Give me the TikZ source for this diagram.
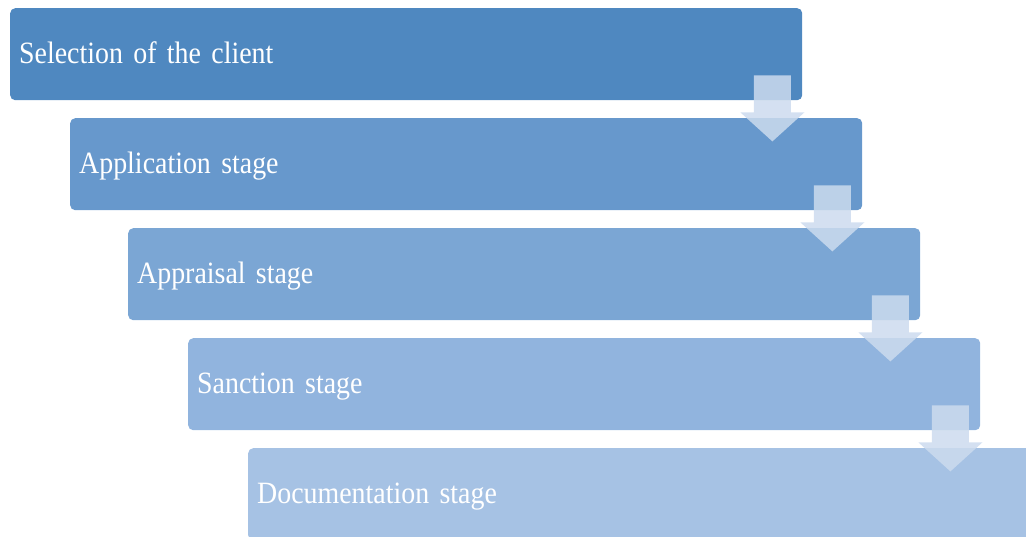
\documentclass[tikz,border=0pt]{standalone}
\usepackage{fontspec}
\setmainfont[FakeStretch=0.9]{Liberation Serif}
\definecolor{stageA}{HTML}{4F88C0}
\definecolor{stageB}{HTML}{6798CC}
\definecolor{stageC}{HTML}{7BA6D4}
\definecolor{stageD}{HTML}{91B4DE}
\definecolor{stageE}{HTML}{A6C2E4}
\definecolor{flowfill}{HTML}{CCDBEE}
\tikzset{
  stage/.style={rounded corners=5pt, anchor=north west,
    minimum width=792pt, minimum height=92pt,
    inner xsep=9pt, text width=774pt, align=left,
    text height=22pt, text depth=4pt,
    text=white, font=\fontsize{31}{34}\selectfont},
  flow/.style={fill=flowfill, fill opacity=0.85}
}
% down arrow hanging from the lower right corner of a stage
\newcommand{\stagearrow}[1]{%
  \fill[flow, shift={(#1.south east)}]
    (-48.5,-25) -- (-11.5,-25) -- (-11.5,12) -- (2,12)
    -- (-30,41) -- (-62,12) -- (-48.5,12) -- cycle;
}
\begin{document}
\begin{tikzpicture}[x=1pt,y=-1pt]
  \useasboundingbox (0,0) rectangle (1026,537);
  \clip (0,0) rectangle (1026,537);
  \node[stage, fill=stageA] (client) at (10,8) {Selection of the client};
  \node[stage, fill=stageB] (application) at (70,118) {Application stage};
  \node[stage, fill=stageC] (appraisal) at (128,228) {Appraisal stage};
  \node[stage, fill=stageD] (sanction) at (188,338) {Sanction stage};
  \node[stage, fill=stageE] (documentation) at (248,448) {Documentation stage};
  \stagearrow{client}
  \stagearrow{application}
  \stagearrow{appraisal}
  \stagearrow{sanction}
\end{tikzpicture}
\end{document}
